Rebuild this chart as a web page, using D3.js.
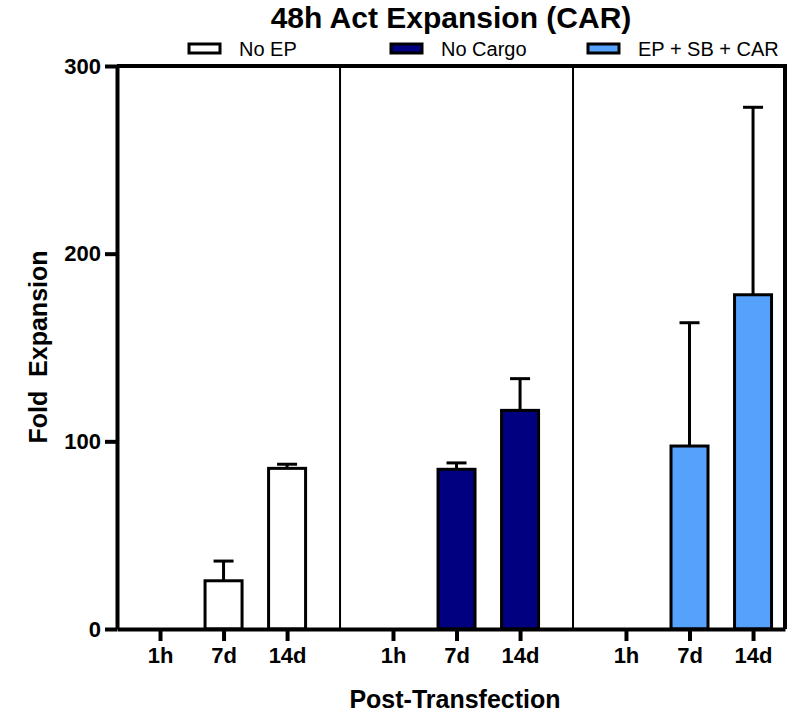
<!DOCTYPE html>
<html>
<head>
<meta charset="utf-8">
<script src="https://cdn.jsdelivr.net/npm/d3@7"></script>
<style>
body{margin:0;background:#fff;}
svg{font-family:Arial,"Liberation Sans",sans-serif;}
</style>
</head>
<body>
<div id="chart"></div>
<script>
// 48h Act Expansion (CAR) - grouped bars with upward error bars
var groups=["No EP","No Cargo","EP + SB + CAR"];
var timepoints=["1h","7d","14d"];
var colors=["#ffffff","#000080","#55a1fb"];
// mean fold expansion per group, per timepoint
var noEP=[0,25.7,85.6];
var noCargo=[0,85.1,116.5];
var epSbCar=[0,97.5,178.1];
// error (upper only)
var noEPErr=[0,10.5,2.2];
var noCargoErr=[0,3.4,16.9];
var epSbCarErr=[0,65.7,99.9];
var yTicks=[0,100,200,300];

var means=[noEP,noCargo,epSbCar],errs=[noEPErr,noCargoErr,epSbCarErr];
var gap=0.667;
function slot(g,t){return g*(timepoints.length+gap)+t;}

var W=808,H=714;
var svg=d3.select("#chart").append("svg").attr("width",W).attr("height",H);

var x=d3.scaleLinear().domain([-0.677,9.837]).range([117,785]);
var y=d3.scaleLinear().domain([0,300]).range([629,66]);

var data=[];
groups.forEach(function(g,gi){
 timepoints.forEach(function(t,ti){
  data.push({g:gi,t:ti,v:means[gi][ti],e:errs[gi][ti],pos:slot(gi,ti)});
 });
});

// frame: top and right
svg.append("line").attr("x1",x(-0.677)).attr("x2",x(9.837)).attr("y1",y(300)).attr("y2",y(300))
 .attr("stroke","#000").attr("stroke-width",4);
svg.append("line").attr("x1",x(9.837)).attr("x2",x(9.837)).attr("y1",y(300)-2).attr("y2",y(0))
 .attr("stroke","#000").attr("stroke-width",4);

// group dividers
[1,2].forEach(function(g){
 var p=(slot(g-1,2)+slot(g,0))/2;
 svg.append("line").attr("x1",x(p)).attr("x2",x(p)).attr("y1",y(300)).attr("y2",y(0))
  .attr("stroke","#000").attr("stroke-width",2);
});

var bw=37;
var barData=data.filter(function(d){return d.v>0;});

// error bars
var eb=svg.append("g");
barData.forEach(function(d){
 var cx=x(d.pos);
 eb.append("line").attr("x1",cx).attr("x2",cx).attr("y1",y(d.v)).attr("y2",y(d.v+d.e))
  .attr("stroke","#000").attr("stroke-width",3);
 eb.append("line").attr("x1",cx-10).attr("x2",cx+10).attr("y1",y(d.v+d.e)).attr("y2",y(d.v+d.e))
  .attr("stroke","#000").attr("stroke-width",3);
});

svg.append("g").selectAll("rect").data(barData).enter().append("rect")
 .attr("x",function(d){return x(d.pos)-bw/2;})
 .attr("width",bw)
 .attr("y",function(d){return y(d.v);})
 .attr("height",function(d){return y(0)-y(d.v);})
 .attr("fill",function(d){return colors[d.g];})
 .attr("stroke","#000").attr("stroke-width",3);

// y axis
var ya=svg.append("g").attr("transform","translate(117,0)")
 .call(d3.axisLeft(y).tickValues(yTicks).tickSize(12).tickSizeOuter(0).tickPadding(4));
ya.select(".domain").attr("stroke-width",4);
ya.selectAll(".tick line").attr("stroke-width",4);
ya.selectAll("text").style("font-size","22px").style("font-weight","bold").attr("fill","#000");

// x axis
var xa=svg.append("g").attr("transform","translate(0,629)")
 .call(d3.axisBottom(x).tickValues(data.map(function(d){return d.pos;}))
 .tickFormat(function(v,i){return timepoints[i%3];}).tickSize(12).tickSizeOuter(0).tickPadding(6));
xa.select(".domain").attr("stroke-width",4);
xa.selectAll(".tick line").attr("stroke-width",4);
xa.selectAll("text").style("font-size","22px").style("font-weight","bold").attr("fill","#000");

// title
svg.append("text").attr("x",451).attr("y",28).attr("text-anchor","middle")
 .style("font-size","30px").style("font-weight","bold").text("48h Act Expansion (CAR)");

// legend
var legX=[189,391,588];
groups.forEach(function(g,i){
 svg.append("rect").attr("x",legX[i]).attr("y",44).attr("width",31).attr("height",9)
  .attr("fill",colors[i]).attr("stroke","#000").attr("stroke-width",3);
 svg.append("text").attr("x",legX[i]+50).attr("y",56).style("font-size","20px").text(g);
});

// axis titles
svg.append("text").attr("transform","translate(47,347)rotate(-90)").attr("text-anchor","middle")
 .style("font-size","25px").style("font-weight","bold").style("white-space","pre").text("Fold  Expansion");
svg.append("text").attr("x",455).attr("y",708).attr("text-anchor","middle")
 .style("font-size","25px").style("font-weight","bold").text("Post-Transfection");
</script>
</body>
</html>
